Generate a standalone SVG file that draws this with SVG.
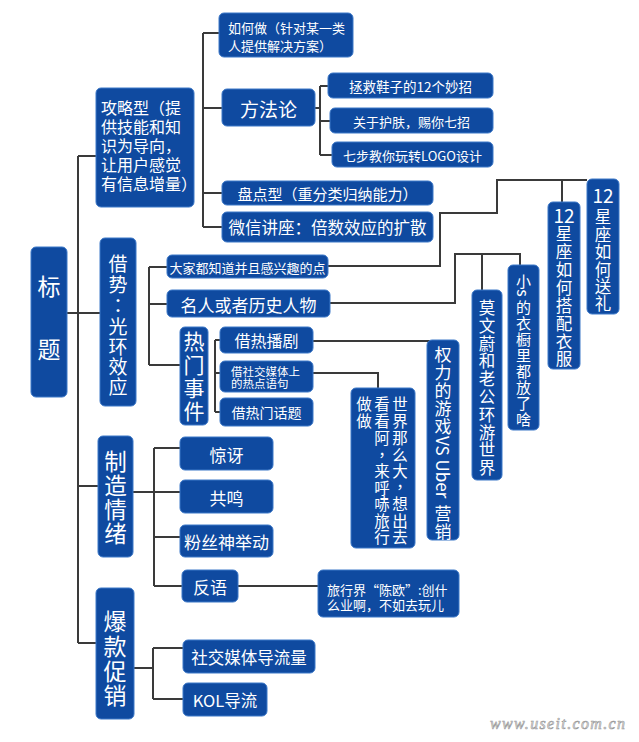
<svg xmlns="http://www.w3.org/2000/svg" width="639" height="742" viewBox="0 0 639 742">
<style>
.b{fill:#0f4aa0;stroke:#3c78c8;stroke-width:1;rx:5px;ry:5px}
text{fill:#fff;font-family:"Noto Sans CJK SC","Noto Sans",sans-serif;dominant-baseline:central}
.m{text-anchor:middle}
.c{fill:none;stroke:#3a3a3a;stroke-width:2}
.tc{font-family:"Noto Sans CJK TC",sans-serif}
.wm{fill:#e6e6e6;stroke:#9a9a9a;stroke-width:0.6;font-family:"Liberation Serif",serif;font-style:italic;font-size:16px}
</style>
<rect width="639" height="742" fill="#fff"/>
<g id="connectors" class="c">
<path d="M78,156V643M67,313H100M78,156H96M78,486H98M78,643H96"/>
<path d="M203,33V227M203,33H219M203,108H222M203,193H222M203,227H222"/>
<path d="M315,108H320M320,86V155M320,86H328M320,121H330M320,155H332"/>
<path d="M149,267V365M149,267H167M149,304H167M149,365H180"/>
<path d="M215,340V412M215,340H220M215,373H220M215,412H220"/>
<path d="M328,266H440V213H497V180H587M562,180V202"/>
<path d="M330,303H455V254H520V265M482,254V290"/>
<path d="M313,341H430M313,373H378V388"/>
<path d="M133,492H154M154,448V586M154,448H180M154,492H180M154,537H180M154,586H182M238,586H318"/>
<path d="M134,668H153M153,648V699M153,648H183M153,699H183"/>
</g>
<g id="n-title"><rect class="b" x="31" y="247" width="36" height="150"/>
<text class="m" font-size="23"><tspan x="49" y="285">标</tspan><tspan x="49" y="348">题</tspan></text></g>
<g id="n-gonglue"><rect class="b" x="96" y="88" width="98" height="119"/>
<text font-size="16"><tspan x="101" y="107">攻略型（提</tspan><tspan x="101" y="126">供技能和知</tspan><tspan x="101" y="145">识为导向，</tspan><tspan x="101" y="164">让用户感觉</tspan><tspan x="101" y="183">有信息增量）</tspan></text></g>
<g id="n-ruhezuo"><rect class="b" x="219" y="13" width="134" height="44"/>
<text font-size="13"><tspan x="228" y="27">如何做（针对某一类</tspan><tspan x="228" y="45">人提供解决方案）</tspan></text></g>
<g id="n-fangfalun"><rect class="b" x="222" y="89" width="93" height="37"/><text class="m" x="268.5" y="108" font-size="19">方法论</text></g>
<g id="n-m1"><rect class="b" x="328" y="73" width="165" height="25"/><text class="m" x="410.5" y="86" font-size="13.5">拯救鞋子的12个妙招</text></g>
<g id="n-m2"><rect class="b" x="330" y="108" width="163" height="25"/><text class="m" x="411.5" y="121" font-size="13">关于护肤，赐你七招</text></g>
<g id="n-m3"><rect class="b" x="332" y="142" width="161" height="25"/><text class="m" x="412.5" y="155" font-size="13">七步教你玩转LOGO设计</text></g>
<g id="n-pandian"><rect class="b" x="222" y="181" width="211" height="24"/><text class="m" x="327.5" y="193" font-size="15">盘点型（重分类归纳能力）</text></g>
<g id="n-weixin"><rect class="b" x="222" y="212" width="211" height="30"/><text class="m" x="327.5" y="227" font-size="16.5">微信讲座：倍数效应的扩散</text></g>
<g id="n-jieshi"><rect class="b" x="100" y="238" width="36" height="168"/>
<text class="m" font-size="19"><tspan x="118" y="262">借</tspan><tspan x="118" y="283">势</tspan><tspan class="tc" x="118" y="304">：</tspan><tspan x="118" y="325">光</tspan><tspan x="118" y="345">环</tspan><tspan x="118" y="365">效</tspan><tspan x="118" y="385">应</tspan></text></g>
<g id="n-dajia"><rect class="b" x="167" y="255" width="161" height="23"/><text class="m" x="247.5" y="267" font-size="13">大家都知道并且感兴趣的点</text></g>
<g id="n-mingren"><rect class="b" x="167" y="290" width="163" height="27"/><text class="m" x="248.5" y="304" font-size="17">名人或者历史人物</text></g>
<g id="n-remen"><rect class="b" x="180" y="327" width="28" height="98"/>
<text class="m" font-size="21"><tspan x="194" y="340">热</tspan><tspan x="194" y="364">门</tspan><tspan x="194" y="387">事</tspan><tspan x="194" y="410">件</tspan></text></g>
<g id="n-bojv"><rect class="b" x="220" y="327" width="93" height="26"/><text class="m" x="266.5" y="340" font-size="16">借热播剧</text></g>
<g id="n-shejiao"><rect class="b" x="220" y="361" width="93" height="31"/>
<text font-size="11.5"><tspan x="231" y="371">借社交媒体上</tspan><tspan x="231" y="383">的热点语句</tspan></text></g>
<g id="n-huati"><rect class="b" x="220" y="398" width="93" height="28"/><text class="m" x="266.5" y="412" font-size="14">借热门话题</text></g>
<g id="n-xz1"><rect class="b" x="587" y="179" width="32" height="135"/>
<text class="m" x="603" y="194" font-size="19">12</text>
<text class="m" font-size="16.5"><tspan x="603" y="216">星</tspan><tspan x="603" y="233.5">座</tspan><tspan x="603" y="251">如</tspan><tspan x="603" y="268.5">何</tspan><tspan x="603" y="286">送</tspan><tspan x="603" y="303">礼</tspan></text></g>
<g id="n-xz2"><rect class="b" x="548" y="202" width="32" height="167"/>
<text class="m" x="564" y="214" font-size="19">12</text>
<text class="m" font-size="16.5"><tspan x="564" y="233">星</tspan><tspan x="564" y="251">座</tspan><tspan x="564" y="269">如</tspan><tspan x="564" y="287">何</tspan><tspan x="564" y="305">搭</tspan><tspan x="564" y="323">配</tspan><tspan x="564" y="341">衣</tspan><tspan x="564" y="358">服</tspan></text></g>
<g id="n-mo"><rect class="b" x="472" y="290" width="30" height="190"/>
<text class="m" font-size="16.5"><tspan x="487" y="307">莫</tspan><tspan x="487" y="324.8">文</tspan><tspan x="487" y="342.6">蔚</tspan><tspan x="487" y="360.4">和</tspan><tspan x="487" y="378.2">老</tspan><tspan x="487" y="396">公</tspan><tspan x="487" y="413.8">环</tspan><tspan x="487" y="431.6">游</tspan><tspan x="487" y="449.4">世</tspan><tspan x="487" y="467.2">界</tspan></text></g>
<g id="n-xiaos"><rect class="b" x="508" y="265" width="31" height="165"/>
<text class="m" font-size="15"><tspan x="523.5" y="280">小</tspan><tspan x="523.5" y="306">的</tspan><tspan x="523.5" y="322">衣</tspan><tspan x="523.5" y="338">橱</tspan><tspan x="523.5" y="354">里</tspan><tspan x="523.5" y="370">都</tspan><tspan x="523.5" y="386">放</tspan><tspan x="523.5" y="402">了</tspan><tspan x="523.5" y="418">啥</tspan></text>
<text class="m" font-size="16" transform="translate(523.5,293) rotate(90)" x="0" y="0">s</text></g>
<g id="n-quanli"><rect class="b" x="427" y="340" width="32" height="200"/>
<text class="m" font-size="17"><tspan x="443" y="353">权</tspan><tspan x="443" y="371">力</tspan><tspan x="443" y="389">的</tspan><tspan x="443" y="407">游</tspan><tspan x="443" y="425">戏</tspan><tspan x="443" y="512">营</tspan><tspan x="443" y="530">销</tspan></text>
<text font-size="17" transform="translate(443,436) rotate(90)" x="0" y="0">VS Uber</text></g>
<g id="n-shijie"><rect class="b" x="351" y="388" width="64" height="160"/>
<text class="m" font-size="15.5"><tspan x="400" y="403">世</tspan><tspan x="400" y="420">界</tspan><tspan x="400" y="437">那</tspan><tspan x="400" y="453.5">么</tspan><tspan x="400" y="470">大</tspan><tspan class="tc" x="400" y="486">，</tspan><tspan x="400" y="503">想</tspan><tspan x="400" y="520">出</tspan><tspan x="400" y="536">去</tspan></text>
<text class="m" font-size="15.5"><tspan x="382" y="403">看</tspan><tspan x="382" y="420">看</tspan><tspan x="382" y="437">阿</tspan><tspan class="tc" x="382" y="453.5">，</tspan><tspan x="382" y="470">来</tspan><tspan x="382" y="487">呼</tspan><tspan x="382" y="503">哧</tspan><tspan x="382" y="520">旅</tspan><tspan x="382" y="536">行</tspan></text>
<text class="m" font-size="15.5"><tspan x="364" y="403">做</tspan><tspan x="364" y="420">做</tspan></text></g>
<g id="n-zhizao"><rect class="b" x="98" y="436" width="35" height="121"/>
<text class="m" font-size="22.5"><tspan x="115.5" y="460">制</tspan><tspan x="115.5" y="484">造</tspan><tspan x="115.5" y="508">情</tspan><tspan x="115.5" y="532">绪</tspan></text></g>
<g id="n-jingya"><rect class="b" x="180" y="437" width="93" height="33"/><text class="m" x="226.5" y="454" font-size="17">惊讶</text></g>
<g id="n-gongming"><rect class="b" x="180" y="480" width="93" height="33"/><text class="m" x="226.5" y="497" font-size="17">共鸣</text></g>
<g id="n-fensi"><rect class="b" x="180" y="525" width="93" height="32"/><text class="m" x="226.5" y="541" font-size="17">粉丝神举动</text></g>
<g id="n-fanyu"><rect class="b" x="182" y="570" width="56" height="32"/><text class="m" x="210" y="586" font-size="17">反语</text></g>
<g id="n-lvxing"><rect class="b" x="318" y="570" width="141" height="47"/>
<text font-size="13"><tspan x="327" y="589">旅行界“陈欧”:创什</tspan><tspan x="327" y="604">么业啊，不如去玩儿</tspan></text></g>
<g id="n-baokuan"><rect class="b" x="96" y="588" width="38" height="131"/>
<text class="m" font-size="23"><tspan x="115" y="620">爆</tspan><tspan x="115" y="645">款</tspan><tspan x="115" y="670">促</tspan><tspan x="115" y="694">销</tspan></text></g>
<g id="n-shejiaomt"><rect class="b" x="183" y="640" width="132" height="33"/><text class="m" x="249" y="657" font-size="16.5">社交媒体导流量</text></g>
<g id="n-kol"><rect class="b" x="183" y="683" width="84" height="33"/><text class="m" x="225" y="700" font-size="16.5">KOL导流</text></g>
<text class="wm" x="490" y="723" textLength="135">www.useit.com.cn</text>
</svg>
